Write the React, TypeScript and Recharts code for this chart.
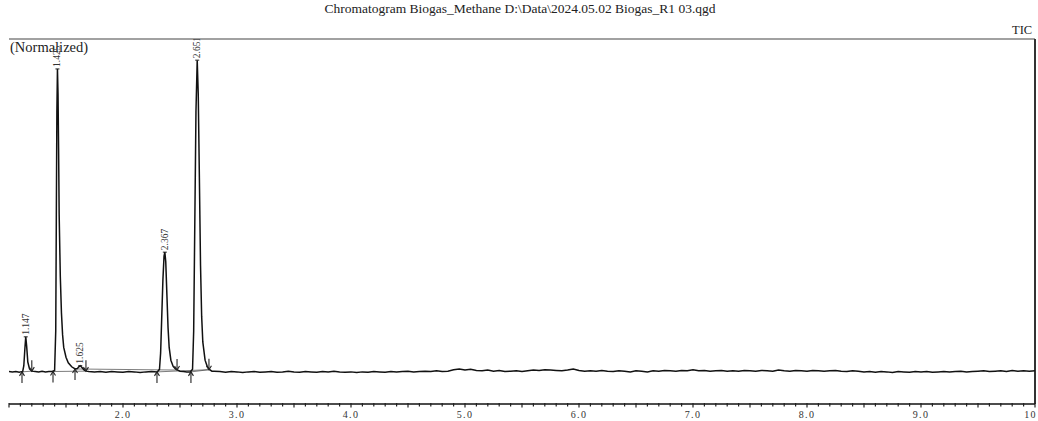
import React from "react"
import { ComposedChart, Line, Scatter, XAxis, YAxis, ReferenceLine } from "recharts"

// signal trace, [retention time (min), normalized intensity]
const leadIn = [[1.0, 8.9], [1.03, 8.8], [1.06, 8.9], [1.09, 8.7], [1.1, 8.8]]
const peak1147 = [[1.12, 8.9], [1.13, 10.5], [1.14, 15.5], [1.147, 18.4], [1.155, 15.8], [1.165, 11.5], [1.18, 9.6], [1.2, 9.0]]
const gapA = [[1.23, 8.9], [1.26, 8.8], [1.29, 9.0], [1.32, 8.8], [1.35, 8.9], [1.38, 8.9]]
const peak1425 = [
  [1.4, 9.2], [1.41, 20], [1.415, 50], [1.42, 80], [1.425, 91.8], [1.43, 85], [1.435, 70], [1.44, 52],
  [1.45, 35], [1.46, 25], [1.47, 19], [1.48, 15.5], [1.5, 12.8], [1.52, 11.3], [1.55, 10.2], [1.58, 9.6],
]
const peak1625 = [[1.6, 9.7], [1.61, 10.1], [1.625, 10.5], [1.64, 10.0], [1.66, 9.3], [1.68, 9.0], [1.7, 8.9]]
const gapB = [
  [1.75, 8.8], [1.8, 8.9], [1.85, 8.7], [1.9, 8.9], [1.95, 8.8], [2.0, 8.7], [2.05, 8.9], [2.1, 8.8],
  [2.15, 8.6], [2.2, 8.8], [2.25, 8.9], [2.3, 8.8],
]
const peak2367 = [
  [2.32, 9.5], [2.33, 14], [2.34, 24], [2.35, 34], [2.36, 40.5], [2.367, 41.6], [2.375, 39], [2.385, 30],
  [2.395, 21], [2.405, 15.5], [2.42, 12], [2.44, 10.3], [2.46, 9.6], [2.48, 9.3], [2.5, 9.0],
]
const gapC = [[2.53, 8.9], [2.56, 8.8], [2.59, 8.8]]
const peak2651 = [
  [2.61, 9.5], [2.62, 20], [2.63, 50], [2.64, 80], [2.651, 94.2], [2.66, 85], [2.67, 62], [2.68, 38],
  [2.69, 24], [2.7, 17], [2.72, 12], [2.74, 10.2], [2.76, 9.4], [2.78, 9.0],
]
const tailOut = [
  [2.8, 9.0], [2.85, 8.9], [2.9, 8.7], [2.95, 8.9], [3.0, 8.8], [3.05, 8.6], [3.1, 8.8], [3.15, 8.9],
  [3.2, 8.7], [3.25, 8.8], [3.3, 8.9], [3.35, 8.7], [3.4, 8.8], [3.45, 9.0], [3.5, 8.8], [3.55, 8.7],
  [3.6, 8.9], [3.65, 8.8], [3.7, 8.7], [3.75, 8.9], [3.8, 8.8], [3.85, 9.0], [3.9, 8.8], [3.95, 8.7],
  [4.0, 8.8], [4.05, 8.6], [4.1, 8.8], [4.15, 8.7], [4.2, 8.9], [4.25, 8.8], [4.3, 8.7], [4.35, 8.9],
  [4.4, 8.8], [4.45, 8.9], [4.5, 9.0], [4.55, 8.8], [4.6, 8.9], [4.65, 9.0], [4.7, 8.9], [4.75, 9.1],
  [4.8, 8.9], [4.85, 9.0], [4.9, 9.4], [4.95, 9.6], [5.0, 9.3], [5.05, 9.5], [5.1, 9.2], [5.15, 9.1],
  [5.2, 9.3], [5.25, 9.0], [5.3, 9.2], [5.35, 8.9], [5.4, 9.0], [5.45, 9.1], [5.5, 8.9], [5.55, 9.1],
  [5.6, 9.3], [5.65, 9.2], [5.7, 9.4], [5.75, 9.3], [5.8, 9.2], [5.85, 9.1], [5.9, 9.3], [5.95, 9.6],
  [6.0, 9.2], [6.05, 9.0], [6.1, 9.1], [6.15, 9.0], [6.2, 9.2], [6.25, 9.0], [6.3, 8.9], [6.35, 9.1],
  [6.4, 9.0], [6.45, 8.8], [6.5, 9.1], [6.55, 9.0], [6.6, 8.8], [6.65, 9.1], [6.7, 9.0], [6.75, 9.2],
  [6.8, 9.1], [6.85, 9.0], [6.9, 9.2], [6.95, 9.1], [7.0, 9.4], [7.05, 9.1], [7.1, 9.2], [7.15, 9.0],
  [7.2, 9.1], [7.25, 9.2], [7.3, 9.0], [7.35, 9.1], [7.4, 9.0], [7.45, 9.2], [7.5, 9.1], [7.55, 9.0],
  [7.6, 9.2], [7.65, 9.1], [7.7, 9.0], [7.75, 9.3], [7.8, 9.1], [7.85, 9.0], [7.9, 9.2], [7.95, 9.1],
  [8.0, 9.0], [8.05, 9.2], [8.1, 9.1], [8.15, 9.0], [8.2, 9.1], [8.25, 9.2], [8.3, 9.0], [8.35, 8.9],
  [8.4, 9.1], [8.45, 9.0], [8.5, 8.8], [8.55, 8.9], [8.6, 8.7], [8.65, 8.9], [8.7, 8.8], [8.75, 8.6],
  [8.8, 8.9], [8.85, 8.8], [8.9, 8.7], [8.95, 8.9], [9.0, 8.8], [9.05, 8.9], [9.1, 8.7], [9.15, 8.8],
  [9.2, 8.9], [9.25, 8.8], [9.3, 8.9], [9.35, 9.0], [9.4, 8.8], [9.45, 8.9], [9.5, 9.0], [9.55, 9.1],
  [9.6, 8.9], [9.65, 9.0], [9.7, 9.1], [9.75, 8.9], [9.8, 9.2], [9.85, 9.0], [9.9, 9.1], [9.95, 9.0],
  [10.0, 9.1],
]

// peak annotations
const peakLabels = ["1.147", "1.425", "1.625", "2.367", "2.651"]
const peakTimes = [1.147, 1.425, 1.625, 2.367, 2.651]
const peakTops = [18.4, 91.8, 10.5, 41.6, 94.2]

// integration start / end marks
const startMarks = [[1.114, 8.8], [1.386, 8.9], [1.579, 9.6], [2.298, 8.8], [2.596, 8.8]]
const endMarks = [[1.2, 9.0], [1.675, 9.0], [2.474, 9.3], [2.754, 9.4]]

const axisLabels = ["2.0", "3.0", "4.0", "5.0", "6.0", "7.0", "8.0", "9.0", "10"]
const axisMajor = [2, 3, 4, 5, 6, 7, 8, 9, 10]

const trace = [...leadIn, ...peak1147, ...gapA, ...peak1425, ...peak1625, ...gapB, ...peak2367, ...gapC, ...peak2651, ...tailOut]
  .map(([t, v]) => ({ t, v }))
const labelData = peakTimes.map((t, i) => ({ t, v: peakTops[i], label: peakLabels[i] }))
const startData = startMarks.map(([t, v]) => ({ t, v }))
const endData = endMarks.map(([t, v]) => ({ t, v }))
const minorTicks = Array.from({ length: 91 }, (_, i) => Math.round((1 + i * 0.1) * 10) / 10)

const FONT = "'Liberation Serif', 'DejaVu Serif', serif"

const AxisTick = (props: any) => {
  const { x, y, payload } = props
  const val = payload.value
  const idx = axisMajor.findIndex((m) => Math.abs(m - val) < 1e-6)
  const half = Math.abs(val * 2 - Math.round(val * 2)) < 1e-6
  const last = idx === axisMajor.length - 1
  return (
    <g>
      <line x1={x} x2={x} y1={y - 1} y2={y + (half ? 3.5 : 2.5)} stroke="#222" strokeWidth={1.2} />
      {idx >= 0 && (
        <text
          x={last ? x + 2 : x}
          y={y + 13.5}
          textAnchor={last ? "end" : "middle"}
          fontSize={10}
          letterSpacing={1.4}
          fill="#333"
          fontFamily={FONT}
        >
          {axisLabels[idx]}
        </text>
      )}
    </g>
  )
}

const PeakLabel = (props: any) => {
  const { cx, cy, payload } = props
  const y = cy - 2
  return (
    <g>
      <line x1={cx - 2} x2={cx + 2} y1={cy} y2={cy} stroke="#222" strokeWidth={1} />
      <text
        x={cx + 3}
        y={y}
        transform={`rotate(-90 ${cx + 3} ${y})`}
        textAnchor="start"
        fontSize={9.5}
        fill="#333"
        fontFamily={FONT}
      >
        {payload.label}
      </text>
    </g>
  )
}

const UpArrow = (props: any) => {
  const { cx, cy } = props
  return (
    <g stroke="#222" strokeWidth={1.1} fill="none">
      <line x1={cx} x2={cx} y1={cy} y2={cy + 11} />
      <polyline points={`${cx - 2.5},${cy + 4} ${cx},${cy} ${cx + 2.5},${cy + 4}`} />
    </g>
  )
}

const DownArrow = (props: any) => {
  const { cx, cy } = props
  return (
    <g stroke="#222" strokeWidth={1.1} fill="none">
      <line x1={cx} x2={cx} y1={cy - 11} y2={cy} />
      <polyline points={`${cx - 2.5},${cy - 4} ${cx},${cy} ${cx + 2.5},${cy - 4}`} />
    </g>
  )
}

export default function App() {
  return (
    <div style={{ position: "relative", width: 1038, height: 421, background: "#fff", fontFamily: FONT }}>
      <style>{"body{margin:0}"}</style>
      <div style={{ position: "absolute", top: 1, left: 0, width: 1040, textAlign: "center", fontSize: 13.5, color: "#222" }}>
        Chromatogram Biogas_Methane D:\Data\2024.05.02 Biogas_R1 03.qgd
      </div>
      <div style={{ position: "absolute", top: 23, left: 1012, fontSize: 12.5, color: "#222" }}>TIC</div>
      <div style={{ position: "absolute", top: 39, left: 10, fontSize: 14.5, color: "#222" }}>(Normalized)</div>
      <ComposedChart width={1038} height={421} margin={{ top: 39, right: 3, left: 9, bottom: 0 }}>
        <XAxis
          dataKey="t"
          type="number"
          domain={[1, 10]}
          ticks={minorTicks}
          interval={0}
          height={17}
          tickSize={0}
          tickMargin={0}
          tick={<AxisTick />}
          tickLine={false}
          axisLine={{ stroke: "#111", strokeWidth: 1.6 }}
          allowDataOverflow
        />
        <YAxis
          type="number"
          domain={[0, 100]}
          width={0}
          tick={false}
          tickLine={false}
          axisLine={{ stroke: "#111", strokeWidth: 2.2 }}
          allowDataOverflow
        />
        <ReferenceLine y={100} stroke="#444" strokeWidth={1.2} />
        <ReferenceLine x={10} stroke="#333" strokeWidth={2} />
        {startMarks.slice(0, 4).map((s, i) => {
          const e = endMarks[i]
          return <ReferenceLine key={i} segment={[{ x: s[0], y: s[1] }, { x: e[0], y: e[1] }]} stroke="#444" strokeWidth={0.7} />
        })}
        <ReferenceLine segment={[{ x: 2.596, y: 8.8 }, { x: 2.754, y: 9.4 }]} stroke="#444" strokeWidth={0.7} />
        <Line
          data={trace}
          dataKey="v"
          type="linear"
          dot={false}
          stroke="#111"
          strokeWidth={1.5}
          isAnimationActive={false}
        />
        <Scatter data={startData} dataKey="v" shape={<UpArrow />} isAnimationActive={false} />
        <Scatter data={endData} dataKey="v" shape={<DownArrow />} isAnimationActive={false} />
        <Scatter data={labelData} dataKey="v" shape={<PeakLabel />} isAnimationActive={false} />
      </ComposedChart>
    </div>
  )
}
